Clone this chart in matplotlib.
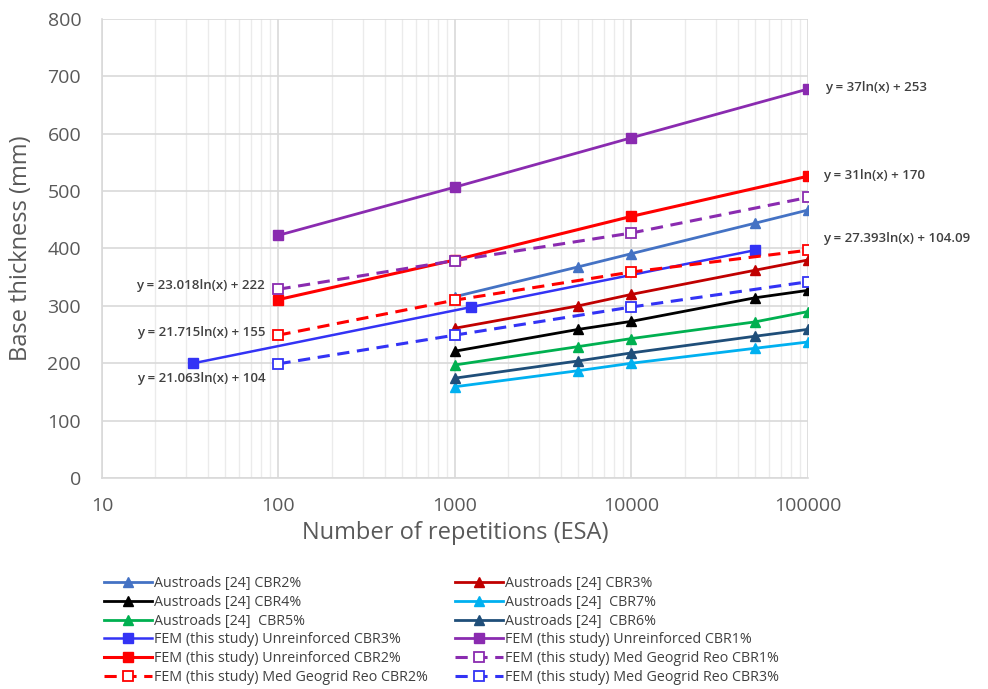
import numpy as np
import matplotlib
matplotlib.use("Agg")
import matplotlib.pyplot as plt
from matplotlib.ticker import LogLocator, FixedLocator, NullFormatter

plt.rcParams["font.family"] = ["Open Sans", "DejaVu Sans"]

# Austroads [24] design curves (triangles)
aus_x = [1000, 5000, 10000, 50000, 100000]
aus_cbr2 = [316, 368, 391, 444, 467]
aus_cbr3 = [261, 300, 320, 362, 380]
aus_cbr4 = [221, 259, 273, 314, 327]
aus_cbr5 = [197, 229, 243, 272, 290]
aus_cbr6 = [174, 204, 218, 247, 259]
aus_cbr7 = [159, 187, 200, 226, 237]

# FEM (this study)
fem_u3_x = [33, 1240, 50000]
fem_u3 = [200, 298, 397]
fem_x = [100, 1000, 10000, 100000]
fem_u1 = [423, 507, 593, 678]
fem_u2 = [311, 380, 456, 526]
fem_g1 = [329, 379, 427, 489]
fem_g2 = [249, 310, 359, 397]
fem_g3 = [199, 249, 298, 342]

# trendline equations shown on the chart
eq_labels = ["y = 37ln(x) + 253", "y = 31ln(x) + 170", "y = 27.393ln(x) + 104.09",
             "y = 23.018ln(x) + 222", "y = 21.715ln(x) + 155", "y = 21.063ln(x) + 104"]

C_AUS2 = "#4472C4"
C_AUS3 = "#C00000"
C_AUS4 = "#000000"
C_AUS5 = "#00B050"
C_AUS6 = "#1F4E79"
C_AUS7 = "#00B0F0"
C_BLUE = "#3333F5"
C_PURP = "#8A2BB0"
C_RED = "#FF0000"

fig = plt.figure(figsize=(9.88, 6.89), dpi=100)
ax = fig.add_axes([0.1032, 0.3063, 0.7146, 0.6661])

tri = dict(marker="^", ms=7, lw=2)
h = {}
h["a2"], = ax.plot(aus_x, aus_cbr2, color=C_AUS2, label="Austroads [24] CBR2%", **tri)
h["a3"], = ax.plot(aus_x, aus_cbr3, color=C_AUS3, label="Austroads [24] CBR3%", **tri)
h["a4"], = ax.plot(aus_x, aus_cbr4, color=C_AUS4, label="Austroads [24] CBR4%", **tri)
h["a7"], = ax.plot(aus_x, aus_cbr7, color=C_AUS7, label="Austroads [24]  CBR7%", **tri)
h["a5"], = ax.plot(aus_x, aus_cbr5, color=C_AUS5, label="Austroads [24]  CBR5%", **tri)
h["a6"], = ax.plot(aus_x, aus_cbr6, color=C_AUS6, label="Austroads [24]  CBR6%", **tri)

sq = dict(marker="s", ms=7.5)
h["u3"], = ax.plot(fem_u3_x, fem_u3, color=C_BLUE, lw=1.8,
                   label="FEM (this study) Unreinforced CBR3%", **sq)
h["u1"], = ax.plot(fem_x, fem_u1, color=C_PURP, lw=2,
                   label="FEM (this study) Unreinforced CBR1%", **sq)
h["u2"], = ax.plot(fem_x, fem_u2, color=C_RED, lw=2.2,
                   label="FEM (this study) Unreinforced CBR2%", **sq)
open_sq = dict(marker="s", ms=7.5, mfc="white", mew=1.3, ls=(0, (4, 2.5)), lw=2.2)
h["g1"], = ax.plot(fem_x, fem_g1, color=C_PURP,
                   label="FEM (this study) Med Geogrid Reo CBR1%", **open_sq)
h["g2"], = ax.plot(fem_x, fem_g2, color=C_RED,
                   label="FEM (this study) Med Geogrid Reo CBR2%", **open_sq)
h["g3"], = ax.plot(fem_x, fem_g3, color=C_BLUE,
                   label="FEM (this study) Med Geogrid Reo CBR3%", **open_sq)

# equation labels
eq_kw = dict(fontsize=9.5, color="#404040", fontweight="semibold")
ax.text(1.25e5, 681, eq_labels[0], va="center", ha="left", clip_on=False, **eq_kw)
ax.text(1.21e5, 528, eq_labels[1], va="center", ha="left", clip_on=False, **eq_kw)
ax.text(1.21e5, 418, eq_labels[2], va="center", ha="left", clip_on=False, **eq_kw)
ax.text(84, 336, eq_labels[3], va="center", ha="right", **eq_kw)
ax.text(84, 253, eq_labels[4], va="center", ha="right", **eq_kw)
ax.text(15.8, 174, eq_labels[5], va="center", ha="left", **eq_kw)

ax.set_xscale("log")
ax.set_xlim(10, 100000)
ax.set_ylim(0, 800)
ax.xaxis.set_major_locator(FixedLocator([10, 100, 1000, 10000, 100000]))
ax.set_xticklabels(["10", "100", "1000", "10000", "100000"])
ax.xaxis.set_minor_locator(LogLocator(base=10, subs=np.arange(2, 10)))
ax.xaxis.set_minor_formatter(NullFormatter())
ax.set_yticks(np.arange(0, 801, 100))

ax.grid(True, which="major", color="#D9D9D9", lw=1.2)
ax.grid(True, which="minor", axis="x", color="#EBEBEB", lw=1.0)
ax.set_axisbelow(True)
for s in ["top", "right"]:
    ax.spines[s].set_visible(False)
for s in ["left", "bottom"]:
    ax.spines[s].set_color("#D9D9D9")
    ax.spines[s].set_linewidth(1.2)
ax.tick_params(which="both", length=0, labelsize=14, labelcolor="#595959")
ax.tick_params(axis="y", pad=15)
ax.tick_params(axis="x", pad=14)

ax.set_xlabel("Number of repetitions (ESA)", fontsize=17, color="#595959", labelpad=4)
ax.set_ylabel("Base thickness (mm)", fontsize=17, color="#595959")
ax.yaxis.set_label_coords(-0.098, 0.5)

order = ["a2", "a4", "a5", "u3", "u2", "g2", "a3", "a7", "a6", "u1", "g1", "g3"]
fig.legend([h[k] for k in order], [h[k].get_label() for k in order],
           ncol=2, frameon=False, fontsize=10.3, loc="upper left",
           bbox_to_anchor=(0.099, 0.172), handlelength=3.4, handletextpad=0.1,
           labelspacing=0.26, columnspacing=1.9, borderaxespad=0,
           labelcolor="#404040")

fig.savefig("out.png", dpi=100)
